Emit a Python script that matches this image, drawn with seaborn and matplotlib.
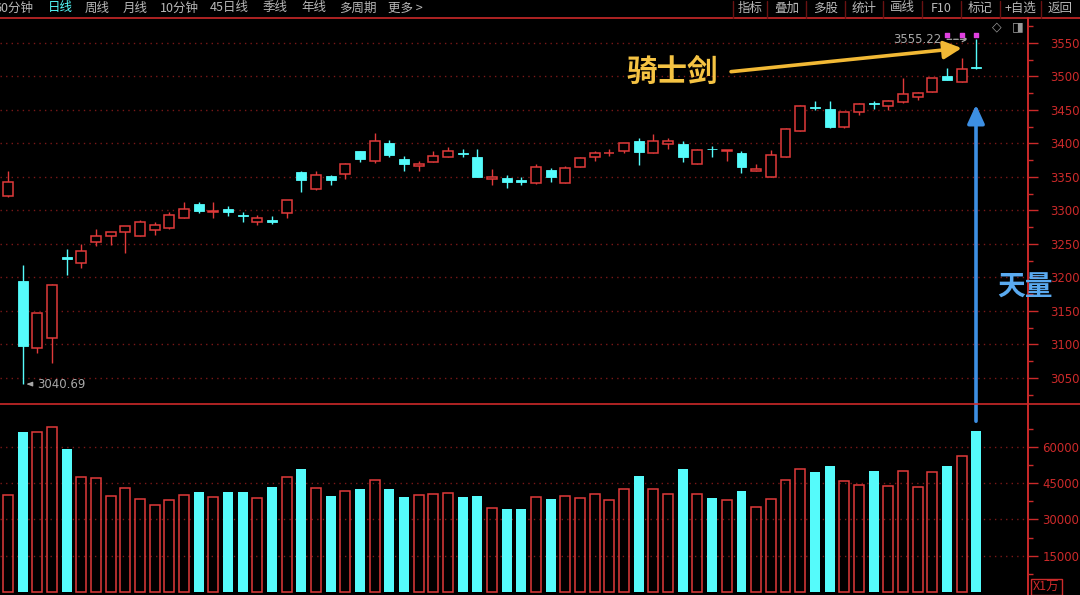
import numpy as np
import pandas as pd
import matplotlib
matplotlib.use("Agg")
import matplotlib.pyplot as plt
import seaborn as sns
from matplotlib.lines import Line2D
from matplotlib.patches import FancyArrowPatch

# daily candles
opens = [3321, 3195, 3094, 3110, 3231, 3221, 3252, 3261, 3267, 3262,
         3270, 3273, 3288, 3310, 3297, 3302, 3293, 3282, 3285, 3296,
         3357, 3332, 3351, 3354, 3388, 3373, 3400, 3376, 3366, 3372,
         3380, 3385, 3379, 3347, 3348, 3345, 3341, 3360, 3341, 3364,
         3379, 3385, 3389, 3403, 3385, 3399, 3399, 3369, 3392, 3388,
         3385, 3359, 3350, 3380, 3419, 3454, 3451, 3424, 3446, 3460,
         3456, 3461, 3469, 3476, 3500, 3492, 3513]
highs = [3358, 3218, 3147, 3190, 3242, 3250, 3272, 3268, 3277, 3286,
         3283, 3298, 3312, 3313, 3313, 3306, 3298, 3293, 3292, 3316,
         3358, 3359, 3353, 3371, 3389, 3416, 3405, 3381, 3373, 3388,
         3394, 3391, 3391, 3361, 3353, 3350, 3369, 3363, 3366, 3380,
         3388, 3391, 3401, 3408, 3414, 3408, 3403, 3391, 3396, 3390,
         3388, 3369, 3390, 3423, 3457, 3463, 3463, 3446, 3460, 3463,
         3464, 3497, 3476, 3498, 3512, 3527, 3555.22]
lows = [3320, 3040.69, 3087, 3072, 3204, 3214, 3247, 3249, 3236, 3261,
        3263, 3272, 3288, 3296, 3288, 3291, 3283, 3278, 3280, 3288,
        3328, 3331, 3338, 3347, 3372, 3370, 3380, 3359, 3358, 3372,
        3380, 3379, 3350, 3338, 3333, 3338, 3339, 3343, 3341, 3364,
        3374, 3381, 3385, 3367, 3385, 3391, 3372, 3369, 3379, 3373,
        3356, 3359, 3350, 3380, 3419, 3450, 3423, 3423, 3442, 3451,
        3449, 3460, 3465, 3476, 3495, 3492, 3511]
closes = [3343, 3098, 3147, 3188, 3227, 3240, 3262, 3268, 3276, 3282,
          3278, 3293, 3302, 3299, 3299, 3298, 3291, 3288, 3282, 3316,
          3345, 3353, 3345, 3369, 3377, 3404, 3382, 3369, 3369, 3381,
          3388, 3384, 3350, 3349, 3342, 3343, 3365, 3349, 3363, 3378,
          3385, 3386, 3401, 3387, 3403, 3404, 3379, 3390, 3391, 3390,
          3364, 3361, 3383, 3422, 3456, 3452, 3425, 3446, 3458, 3458,
          3463, 3474, 3475, 3497, 3495, 3511, 3512]
# volume, unit = 1万
volumes = [40200, 66100, 66000, 68300, 59200, 47650, 47100, 39800, 43000, 38400,
           36100, 38000, 40200, 41200, 39250, 41200, 41200, 38800, 43500, 47650,
           50950, 43000, 39800, 41700, 42550, 46150, 42550, 39400, 40200, 40600,
           41000, 39400, 39800, 34600, 34300, 34300, 39250, 38400, 39800, 38800,
           40600, 37900, 42550, 48050, 42550, 40600, 50800, 40600, 38800, 37900,
           41600, 35100, 38400, 46150, 50800, 49450, 52200, 45850, 44350, 50000,
           43900, 49850, 43500, 49450, 52200, 56300, 66500]

price_ticks = [3050, 3100, 3150, 3200, 3250, 3300, 3350, 3400, 3450, 3500, 3550]
vol_ticks = [15000, 30000, 45000, 60000]
signal_days = [64, 65, 66]
menu_left = ["60分钟", "日线", "周线", "月线", "10分钟", "45日线", "季线", "年线", "多周期", "更多 >"]
menu_right = ["指标", "叠加", "多股", "统计", "画线", "F10", "标记", "+自选", "返回"]

df = pd.DataFrame({"open": opens, "high": highs, "low": lows,
                   "close": closes, "vol": volumes})
df["day"] = np.arange(len(df))
df["up"] = df["close"] >= df["open"]

RED = "#e03a3a"
CYAN = "#55fbfb"
GRID = "#7a1818"
AXRED = "#cc2a2a"
BG = "#000000"

sns.set_theme(style="dark", rc={"figure.facecolor": BG, "axes.facecolor": BG})
plt.rcParams["font.family"] = ["Noto Sans CJK SC", "DejaVu Sans"]
plt.rcParams["axes.unicode_minus"] = False

W, H = 1080, 595
fig = plt.figure(figsize=(10.8, 5.95), dpi=100)
ax = fig.add_axes([0, (H - 404) / H, 1028 / W, (404 - 18) / H])
axv = fig.add_axes([0, 0, 1028 / W, (H - 404) / H])

xlim = (-0.545, 69.53)
bw = 0.68

# candles
up = df[df["up"]]
dn = df[~df["up"]]
ax.vlines(up["day"], up["low"], up["high"], color=RED, lw=1.0, zorder=2)
ax.vlines(dn["day"], dn["low"], dn["high"], color=CYAN, lw=1.0, zorder=2)
body_lo = np.minimum(df["open"], df["close"])
body_h = np.maximum(np.abs(df["close"] - df["open"]), 1.2)
m = df["up"].values
ax.bar(df["day"][m], body_h[m], bottom=body_lo[m], width=bw,
       facecolor=BG, edgecolor=RED, lw=1.1, zorder=3)
ax.bar(df["day"][~m], body_h[~m], bottom=body_lo[~m], width=bw,
       facecolor=CYAN, edgecolor=CYAN, lw=0.6, zorder=3)

# volume bars
sns.barplot(x=up["day"], y=up["vol"], native_scale=True, fill=False, color=RED,
            width=bw, linewidth=1.1, errorbar=None, ax=axv)
sns.barplot(x=dn["day"], y=dn["vol"], native_scale=True, color=CYAN,
            width=bw, linewidth=0, errorbar=None, ax=axv)
for p in axv.patches:
    if p.get_facecolor()[3] > 0:
        p.set_facecolor(CYAN)
        p.set_edgecolor(CYAN)

for a, lim, ticks, minor, pad in [(ax, (3011, 3587), price_ticks, 25, 9),
                                  (axv, (-1240, 77700), vol_ticks, 7500, 3.5)]:
    a.set_xlim(*xlim)
    a.set_ylim(*lim)
    a.set_xticks([])
    a.set_xlabel("")
    a.set_ylabel("")
    a.yaxis.tick_right()
    a.set_yticks(ticks)
    a.set_yticks(np.arange(ticks[0] - minor, ticks[-1] + minor * 2, minor), minor=True)
    a.tick_params(axis="y", which="major", colors=AXRED, labelcolor=AXRED,
                  length=7, width=1, labelsize=8.5, pad=pad, right=True, left=False)
    a.tick_params(axis="y", which="minor", colors=AXRED, length=3.5, width=1,
                  right=True, left=False)
    for lab in a.get_yticklabels():
        lab.set_family("DejaVu Sans")
    a.grid(False)
    for t in ticks:
        a.axhline(t, color=GRID, lw=1.0, ls=(0, (1, 3)), zorder=0)
    for s in ["top", "bottom", "left"]:
        a.spines[s].set_visible(False)
    a.spines["right"].set_color(AXRED)
    a.spines["right"].set_linewidth(1.2)
    a.set_facecolor(BG)

# high / low markers
ax.annotate("3555.22", xy=(66 - 0.35, 3555.22), xytext=(63.6, 3555.22),
            color="#a8a8a8", fontsize=8.5, ha="right", va="center",
            family="DejaVu Sans",
            arrowprops=dict(arrowstyle="->", color="#a8a8a8", lw=0.9, ls="--"))
ax.annotate("3040.69", xy=(1.05, 3040.69), xytext=(2.0, 3040.69),
            color="#a8a8a8", fontsize=8.5, ha="left", va="center",
            family="DejaVu Sans",
            arrowprops=dict(arrowstyle="-|>,head_length=0.4,head_width=0.15",
                            color="#a8a8a8", lw=0.9))
ax.scatter(signal_days, [3561] * len(signal_days), marker="s", s=6,
           color="#e040e0", zorder=5)

# gold annotation
ax.annotate("", xy=(65.2, 3542.5), xytext=(49.1, 3506.5),
            arrowprops=dict(arrowstyle="-|>,head_length=0.9,head_width=0.45",
                            color="#f2b935", lw=2.6))
ax.text(45.3, 3507, "骑士剑", color="#f5c343", fontsize=22, fontweight="bold",
        ha="center", va="center")

# blue arrow across both panes
fig.add_artist(FancyArrowPatch(
    (976 / W, (H - 424) / H), (976 / W, (H - 102) / H), transform=fig.transFigure,
    arrowstyle="-|>,head_length=7,head_width=3.2", color="#3d8fe3", lw=2.6,
    mutation_scale=1.6))
fig.text(1025 / W, 1 - 288 / H, "天量", color="#5aaaf0", fontsize=20,
         fontweight="bold", ha="center", va="center")

# frame lines
fig.add_artist(Line2D([0, 1], [1 - 18 / H] * 2, color=AXRED, lw=1.2))
fig.add_artist(Line2D([0, 1], [1 - 404 / H] * 2, color=AXRED, lw=1.2))
fig.add_artist(Line2D([1028 / W] * 2, [0, 1 - 18 / H], color=AXRED, lw=1.2))

# top menu
menu_x = [-6, 48, 85, 123, 160, 210, 263, 301, 339, 388]
for tx, lab in zip(menu_x, menu_left):
    fig.text(tx / W, 1 - 8 / H, lab, fontsize=9, va="center", ha="left",
             color=CYAN if lab == "日线" else "#b8b8b8")
seps = [733, 767, 806, 845, 883, 922, 961, 1000, 1041]
for i, lab in enumerate(menu_right):
    x0 = seps[i]
    x1 = seps[i + 1] if i + 1 < len(seps) else 1080
    fig.add_artist(Line2D([x0 / W] * 2, [1 - 1 / H, 1 - 18 / H], color="#6a1212", lw=1))
    fig.text((x0 + x1) / 2 / W, 1 - 8 / H, lab, fontsize=9, va="center", ha="center",
             color="#b8b8b8")
fig.text(997 / W, 1 - 27 / H, "◇", fontsize=9, color="#9a9a9a", ha="center",
         va="center", family="DejaVu Sans")
fig.text(1018 / W, 1 - 27 / H, "◨", fontsize=9, color="#9a9a9a", ha="center",
         va="center", family="DejaVu Sans")
fig.text(1033 / W, 8 / H, "X1万", fontsize=9, color=AXRED, ha="left", va="center",
         bbox=dict(boxstyle="square,pad=0.15", fc=BG, ec=AXRED, lw=1))

fig.savefig("out.png", dpi=100, facecolor=BG)
